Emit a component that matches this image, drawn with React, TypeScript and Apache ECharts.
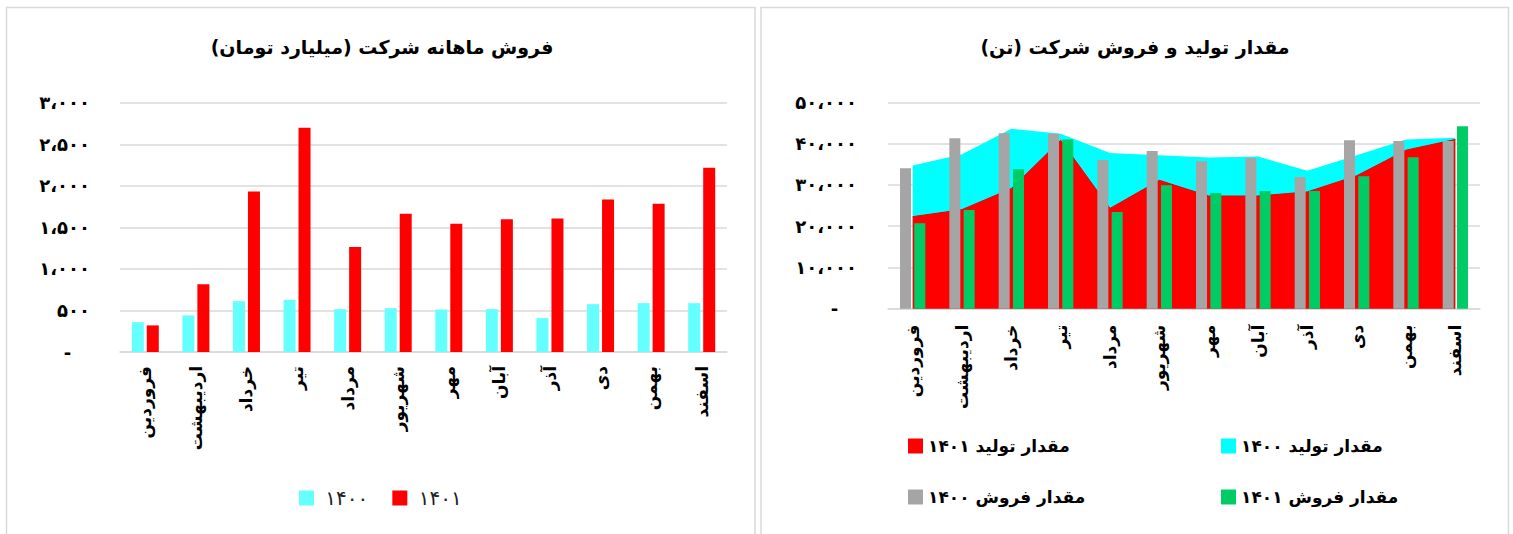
import React, { useEffect, useRef } from "react";
import * as echarts from "echarts";

const months = ["فروردین", "اردیبهشت", "خرداد", "تیر", "مرداد", "شهریور", "مهر", "آبان", "آذر", "دی", "بهمن", "اسفند"];

// Left chart: monthly sales (billion toman)
const sales1400 = [360, 440, 612, 628, 516, 528, 512, 516, 408, 576, 588, 588];
const sales1401 = [320, 816, 1932, 2700, 1264, 1664, 1544, 1596, 1608, 1836, 1784, 2216];

// Right chart: production & sales quantity (ton)
const prod1400 = [34700, 37400, 43600, 42400, 37700, 37200, 36600, 36900, 33400, 37200, 41000, 41400];
const prod1401 = [22300, 24000, 29100, 40800, 24300, 31100, 27300, 27300, 28300, 32200, 38400, 41000];
const qty1400 = [34000, 41300, 42500, 42400, 36000, 38200, 35700, 36500, 31900, 40800, 40600, 40600];
const qty1401 = [20700, 23900, 33800, 41000, 23400, 29900, 28000, 28500, 28500, 32100, 36700, 44200];

const leftTitle = "فروش ماهانه شرکت (میلیارد تومان)";
const rightTitle = "مقدار تولید و فروش شرکت (تن)";
const leftNames = ["۱۴۰۰", "۱۴۰۱"];
const rightNames = ["مقدار تولید ۱۴۰۰", "مقدار تولید ۱۴۰۱", "مقدار فروش ۱۴۰۰", "مقدار فروش ۱۴۰۱"];

const FONT = "'DejaVu Sans', sans-serif";
const faDigits = "۰۱۲۳۴۵۶۷۸۹";
const toFa = (s: string) => s.replace(/\d/g, (d) => faDigits[+d]);
const fmt = (v: number) =>
  v === 0 ? "-\u00A0\u00A0\u00A0" : toFa(v.toLocaleString("en-US")).replace(/,/g, "،");

export default function App() {
  const ref = useRef<HTMLDivElement>(null);
  useEffect(() => {
    if (!ref.current) return;
    const chart = echarts.init(ref.current, undefined, { renderer: "svg" });
    const grid = "#d9d9d9";
    const xAxisCommon = (gridIndex: number, margin: number) => ({
      type: "category",
      gridIndex,
      data: months,
      axisTick: { show: false },
      axisLine: { lineStyle: { color: grid, width: 1.5 } },
      axisLabel: {
        rotate: 90,
        interval: 0,
        margin,
        fontFamily: FONT,
        fontWeight: "bold",
        fontSize: 17,
        color: "#000",
      },
    });
    const yAxisCommon = (gridIndex: number, max: number, interval: number, margin: number) => ({
      type: "value",
      gridIndex,
      min: 0,
      max,
      interval,
      axisLine: { show: false },
      axisTick: { show: false },
      splitLine: { lineStyle: { color: grid, width: 1.5 } },
      axisLabel: {
        margin,
        formatter: fmt,
        fontFamily: FONT,
        fontWeight: "bold",
        fontSize: 18,
        color: "#000",
      },
    });
    const legendCommon = {
      icon: "rect",
      itemWidth: 15,
      itemHeight: 15,
      selectedMode: false,
      padding: 0,
    };
    const rightLegendText = { fontFamily: FONT, fontWeight: "bold", fontSize: 17, lineHeight: 20, color: "#000" };
    chart.setOption({
      animation: false,
      backgroundColor: "#fff",
      title: [
        {
          text: leftTitle,
          left: 382,
          top: 35,
          padding: 0,
          textAlign: "center",
          textStyle: { fontFamily: FONT, fontWeight: "bold", fontSize: 19, lineHeight: 23, color: "#000" },
        },
        {
          text: rightTitle,
          left: 1135,
          top: 35,
          padding: 0,
          textAlign: "center",
          textStyle: { fontFamily: FONT, fontWeight: "bold", fontSize: 19, lineHeight: 23, color: "#000" },
        },
      ],
      graphic: [
        {
          type: "rect",
          shape: { x: 6.5, y: 7.5, width: 748.5, height: 540 },
          style: { fill: "none", stroke: "#d9d9d9", lineWidth: 1.5 },
          silent: true,
        },
        {
          type: "rect",
          shape: { x: 761, y: 7.5, width: 747.5, height: 540 },
          style: { fill: "none", stroke: "#d9d9d9", lineWidth: 1.5 },
          silent: true,
        },
      ],
      legend: [
        {
          ...legendCommon,
          data: leftNames,
          left: 299,
          top: 488,
          itemGap: 24,
          formatter: (n: string) => "\u00A0" + n,
          textStyle: { fontFamily: FONT, fontSize: 20, lineHeight: 20, color: "#222" },
        },
        { ...legendCommon, data: [rightNames[1]], left: 908, top: 436, textStyle: rightLegendText },
        { ...legendCommon, data: [rightNames[0]], left: 1221, top: 436, textStyle: rightLegendText },
        { ...legendCommon, data: [rightNames[2]], left: 908, top: 487, textStyle: rightLegendText },
        { ...legendCommon, data: [rightNames[3]], left: 1221, top: 487, textStyle: rightLegendText },
      ],
      grid: [
        { left: 120, right: 786, top: 102.7, bottom: 182 },
        { left: 888, right: 33, top: 102.3, bottom: 225.3 },
      ],
      xAxis: [xAxisCommon(0, 14), xAxisCommon(1, 16)],
      yAxis: [yAxisCommon(0, 3000, 500, 30), yAxisCommon(1, 50000, 10000, 31)],
      series: [
        {
          type: "bar",
          name: leftNames[0],
          xAxisIndex: 0,
          yAxisIndex: 0,
          data: sales1400,
          barWidth: 12,
          barGap: "25%",
          itemStyle: { color: "#66FFFF" },
        },
        {
          type: "bar",
          name: leftNames[1],
          xAxisIndex: 0,
          yAxisIndex: 0,
          data: sales1401,
          barWidth: 12,
          barGap: "25%",
          itemStyle: { color: "#FF0000" },
        },
        {
          type: "line",
          name: rightNames[0],
          xAxisIndex: 1,
          yAxisIndex: 1,
          data: prod1400,
          symbol: "none",
          z: 1,
          itemStyle: { color: "#00FFFF" },
          lineStyle: { width: 0, color: "#00FFFF" },
          areaStyle: { color: "#00FFFF", opacity: 1 },
        },
        {
          type: "line",
          name: rightNames[1],
          xAxisIndex: 1,
          yAxisIndex: 1,
          data: prod1401,
          symbol: "none",
          z: 1,
          itemStyle: { color: "#FF0000" },
          lineStyle: { width: 1, color: "#E80000" },
          areaStyle: { color: "#FF0000", opacity: 1 },
        },
        {
          type: "bar",
          name: rightNames[2],
          xAxisIndex: 1,
          yAxisIndex: 1,
          data: qty1400,
          barWidth: 11,
          barGap: "30%",
          z: 3,
          itemStyle: { color: "#A5A5A5" },
        },
        {
          type: "bar",
          name: rightNames[3],
          xAxisIndex: 1,
          yAxisIndex: 1,
          data: qty1401,
          barWidth: 11,
          barGap: "30%",
          z: 3,
          itemStyle: { color: "#00CC66" },
        },
      ],
    });
    return () => chart.dispose();
  }, []);
  return (
    <div
      ref={ref}
      style={{ position: "absolute", left: 0, top: 0, width: 1513, height: 534, background: "#fff" }}
    />
  );
}
